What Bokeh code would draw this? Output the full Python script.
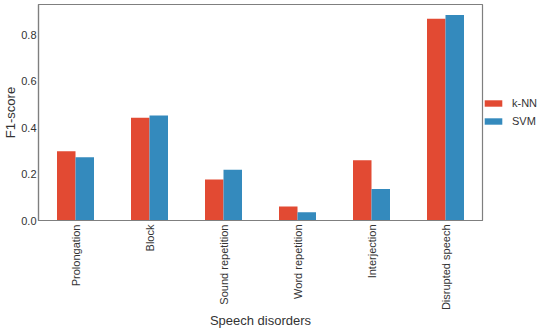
import math
from bokeh.plotting import figure
from bokeh.models import ColumnDataSource, FactorRange, FixedTicker, PrintfTickFormatter, Legend, LegendItem
from bokeh.transform import dodge
from bokeh.embed import file_html
from bokeh.resources import INLINE

categories = ["Prolongation", "Block", "Sound repetition", "Word repetition", "Interjection", "Disrupted speech"]
knn = [0.298, 0.442, 0.176, 0.060, 0.259, 0.869]
svm = [0.272, 0.452, 0.219, 0.036, 0.136, 0.885]
y_ticks = [0.0, 0.2, 0.4, 0.6, 0.8]

src = ColumnDataSource(data=dict(cat=categories, knn=knn, svm=svm))

FONT = "Liberation Sans"
TXT = "#333333"
GRAY = "#7f7f7f"

p = figure(x_range=FactorRange(factors=categories), y_range=(0, 0.93),
           frame_width=444, frame_height=216, output_backend="svg", toolbar_location=None,
           min_border_left=0, min_border_top=4, min_border_right=0, min_border_bottom=0)

r1 = p.vbar(x=dodge("cat", -0.125, range=p.x_range), top="knn", width=0.25, source=src,
            fill_color="#E24A33", line_color=None)
r2 = p.vbar(x=dodge("cat", 0.125, range=p.x_range), top="svm", width=0.25, source=src,
            fill_color="#348ABD", line_color=None)

p.xgrid.visible = False
p.ygrid.visible = False
p.outline_line_color = GRAY
p.outline_line_width = 1.2

for ax in (p.xaxis, p.yaxis):
    ax.axis_line_color = GRAY
    ax.axis_line_width = 1.2
    ax.major_tick_line_color = None
    ax.minor_tick_line_color = None
    ax.major_tick_out = 0
    ax.major_tick_in = 0
    ax.minor_tick_out = 0
    ax.minor_tick_in = 0
    ax.major_label_text_font = FONT
    ax.major_label_text_font_size = "11px"
    ax.major_label_text_color = TXT
    ax.axis_label_text_font = FONT
    ax.axis_label_text_font_size = "13px"
    ax.axis_label_text_font_style = "normal"
    ax.axis_label_text_color = TXT
    ax.axis_label_standoff = 0

p.yaxis.ticker = FixedTicker(ticks=y_ticks)
p.yaxis.formatter = PrintfTickFormatter(format="%.1f")
p.yaxis.axis_label = "F1-score"
p.yaxis.major_label_standoff = 2
p.xaxis.axis_label = "Speech disorders"
p.xaxis.major_label_orientation = math.pi / 2
p.xaxis.major_label_standoff = 4

legend = Legend(items=[LegendItem(label="k-NN", renderers=[r1]), LegendItem(label="SVM", renderers=[r2])],
                location="center_left", border_line_color=None, background_fill_alpha=0,
                label_text_font=FONT, label_text_font_size="11px", label_text_color=TXT,
                glyph_width=22, glyph_height=8, spacing=6, label_standoff=8, padding=3, margin=0)
p.add_layout(legend, "right")

open("out.html", "w").write(file_html(p, INLINE))
